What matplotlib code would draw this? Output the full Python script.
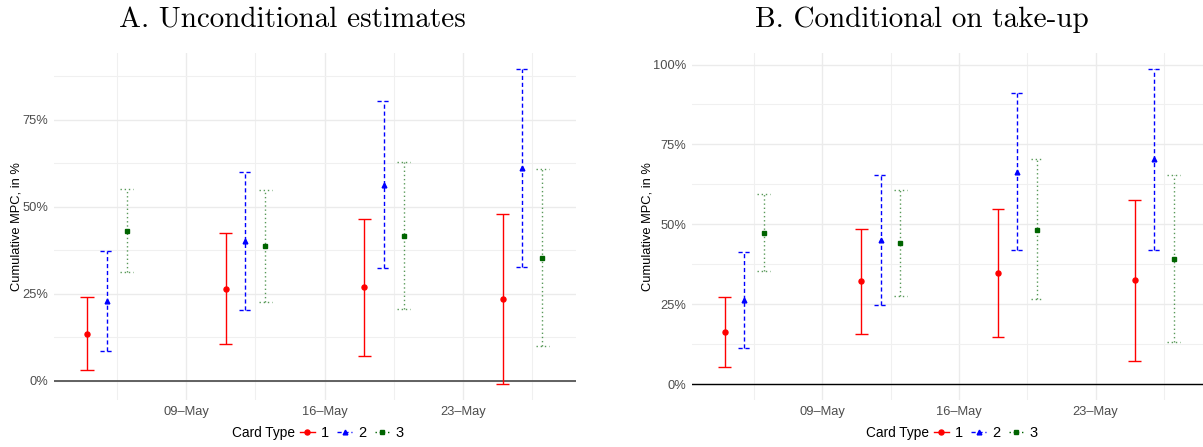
import numpy as np
import pandas as pd
import matplotlib
matplotlib.use("Agg")
import matplotlib.pyplot as plt
import matplotlib.dates as mdates
from matplotlib.lines import Line2D
from matplotlib.ticker import FixedLocator, FuncFormatter

plt.rcParams["font.family"] = ["Liberation Sans", "DejaVu Sans"]

# week centres; the three card types are dodged by one day around them
weeks = pd.to_datetime(["2020-05-05", "2020-05-12", "2020-05-19", "2020-05-26"])
card_types = ["1", "2", "3"]

# A. Unconditional estimates (in %), one row per card type
a_est = [[13.4, 26.5, 26.9, 23.5],
         [23.0, 40.2, 56.4, 61.3],
         [43.1, 38.7, 41.6, 35.3]]
a_lo = [[3.0, 10.5, 7.2, -1.0],
        [8.7, 20.5, 32.4, 32.6],
        [31.4, 22.6, 20.7, 10.1]]
a_hi = [[24.0, 42.6, 46.5, 48.0],
        [37.4, 60.0, 80.4, 89.7],
        [55.0, 54.8, 62.8, 60.8]]

# B. Conditional on take-up (in %)
b_est = [[16.4, 32.4, 34.7, 32.5],
         [26.3, 45.2, 66.4, 70.5],
         [47.4, 44.3, 48.3, 39.2]]
b_lo = [[5.5, 15.8, 14.8, 7.3],
        [11.3, 24.8, 41.9, 42.1],
        [35.5, 27.6, 26.7, 13.3]]
b_hi = [[27.2, 48.7, 54.8, 57.7],
        [41.5, 65.6, 91.1, 98.5],
        [59.4, 60.8, 70.5, 65.4]]

colors = ["red", "blue", "darkgreen"]
line_styles = ["-", (0, (3, 2)), (0, (1, 2))]
line_alpha = [1.0, 1.0, 0.65]
markers = ["o", "^", "s"]
marker_sizes = [3.6, 3.4, 3.2]

W, H = 1203, 447
fig = plt.figure(figsize=(W / 100, H / 100), dpi=100)


def px_box(x0, x1, y_top, y_bot):
    return [x0 / W, 1 - y_bot / H, (x1 - x0) / W, (y_bot - y_top) / H]


def panel(ax, est, lo, hi, ylim, yticks, zero_color, zero_lw):
    for k in range(3):
        x = mdates.date2num(weeks + pd.Timedelta(days=k - 1))
        kw = dict(colors=colors[k], linestyles=[line_styles[k]],
                  linewidth=1.0, alpha=line_alpha[k], zorder=3)
        ax.vlines(x, lo[k], hi[k], **kw)
        ax.hlines(lo[k], x - 0.33, x + 0.33, **kw)
        ax.hlines(hi[k], x - 0.33, x + 0.33, **kw)
        ax.plot(x, est[k], ls="none", marker=markers[k], ms=marker_sizes[k],
                color=colors[k], zorder=4)
    ax.axhline(0, color=zero_color, lw=zero_lw, zorder=2)

    x0 = mdates.date2num(pd.Timestamp("2020-05-02 08:00"))
    ax.set_xlim(x0, x0 + 26.37)
    ax.set_ylim(*ylim)

    major_days = mdates.date2num(pd.to_datetime(["2020-05-09", "2020-05-16", "2020-05-23"]))
    ax.xaxis.set_major_locator(FixedLocator(major_days))
    ax.xaxis.set_minor_locator(FixedLocator(list(major_days - 3.5) + [major_days[-1] + 3.5]))
    ax.xaxis.set_major_formatter(mdates.DateFormatter("%d\u2013%b"))
    ax.yaxis.set_major_locator(FixedLocator(yticks))
    ax.yaxis.set_minor_locator(FixedLocator(np.array(yticks[:-1]) + 12.5))
    ax.yaxis.set_major_formatter(FuncFormatter(lambda v, p: f"{v:.0f}%"))

    ax.grid(which="major", color="#EBEBEB", lw=1.0, zorder=0)
    ax.grid(which="minor", color="#F0F0F0", lw=0.8, zorder=0)
    ax.set_axisbelow(True)
    for s in ax.spines.values():
        s.set_visible(False)
    ax.tick_params(which="both", length=0, labelsize=9.3, labelcolor="#4D4D4D")
    ax.tick_params(axis="x", pad=4)
    ax.tick_params(axis="y", pad=4)
    ax.set_ylabel("Cumulative MPC, in %", fontsize=9.3, color="black", labelpad=0)


ax_a = fig.add_axes(px_box(54, 576, 53, 400))
panel(ax_a, a_est, a_lo, a_hi, (-5.5, 94.2), [0, 25, 50, 75, 100], "#555555", 1.3)

ax_b = fig.add_axes(px_box(692, 1207, 53, 400))
panel(ax_b, b_est, b_lo, b_hi, (-4.9, 103.6), [0, 25, 50, 75, 100], "black", 1.0)

# titles in a Computer Modern face
fig.text(292 / W, 1 - 27 / H, "A. Unconditional estimates", family="cmr10",
         fontsize=21, ha="center", va="baseline")
fig.text(922 / W, 1 - 27 / H, "B. Conditional on take-up", family="cmr10",
         fontsize=21, ha="center", va="baseline")

# legends below each panel
handles = [Line2D([], [], color=colors[k], ls=line_styles[k], marker=markers[k],
                  ms=marker_sizes[k], lw=1.0) for k in range(3)]
for x_text in (295, 929):
    fig.text(x_text / W, 1 - 433 / H, "Card Type", fontsize=9.8,
             ha="right", va="center")
    fig.legend(handles, card_types, loc="center left",
               bbox_to_anchor=((x_text + 5) / W, 1 - 433 / H), ncol=3,
               frameon=False, fontsize=10.5, handlelength=1.0, handletextpad=0.45,
               columnspacing=0.55, borderpad=0, borderaxespad=0)

fig.savefig("out.png", dpi=100)
